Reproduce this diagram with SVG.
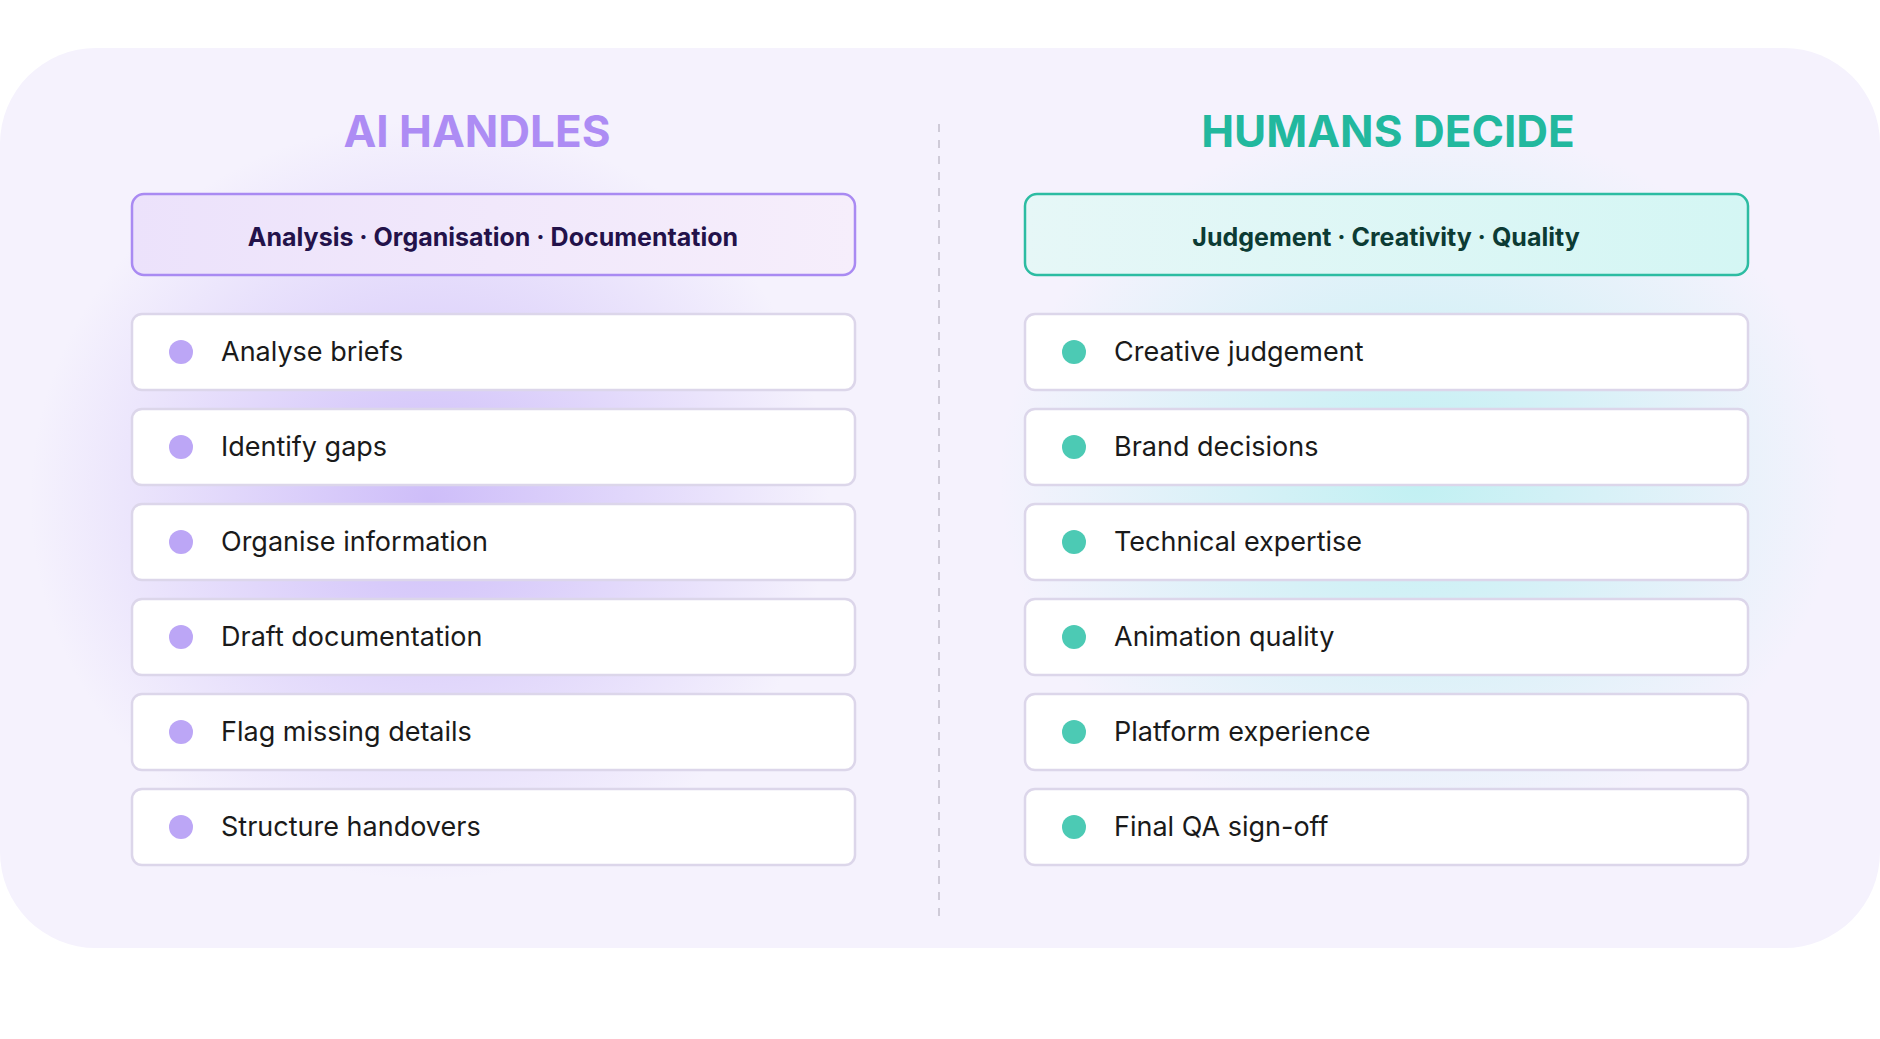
<svg xmlns="http://www.w3.org/2000/svg" width="1880" height="1039" viewBox="0 0 1880 1039">
<defs>
<radialGradient id="gp" cx="0.5" cy="0.5" r="0.5"><stop offset="0" stop-color="#c4b0f8" stop-opacity="0.8"/><stop offset="1" stop-color="#c4b0f8" stop-opacity="0"/></radialGradient>
<radialGradient id="gt" cx="0.5" cy="0.5" r="0.5"><stop offset="0" stop-color="#b4f0f0" stop-opacity="0.8"/><stop offset="1" stop-color="#b4f0f0" stop-opacity="0"/></radialGradient>
<linearGradient id="hp" x1="0" x2="1"><stop offset="0" stop-color="#ece2fb"/><stop offset="1" stop-color="#f6eefb"/></linearGradient>
<linearGradient id="ht" x1="0" x2="1"><stop offset="0" stop-color="#e6f7f7"/><stop offset="1" stop-color="#d4f6f4"/></linearGradient>
</defs>
<style>
text{font-family:Inter,"Noto Sans","Liberation Sans",sans-serif}
.title{font-size:44px;font-weight:700;text-anchor:middle}
.hdr{font-size:25px;font-weight:700;text-anchor:middle}
.item rect{fill:#fff;stroke:#dcd6ea;stroke-width:2.5}
.item text{font-size:27px;fill:#1a1a1a}
.p{fill:#bca6f6}.t{fill:#4ccab4}
</style>
<rect width="1880" height="1039" fill="#fff"/>
<rect x="0" y="48" width="1880" height="900" rx="96" fill="#f5f2fd"/>
<ellipse cx="430" cy="500" rx="400" ry="380" fill="url(#gp)"/>
<ellipse cx="1420" cy="480" rx="420" ry="360" fill="url(#gt)"/>
<g id="connectors"><line x1="939" y1="124" x2="939" y2="920" stroke="#cfcbd8" stroke-width="2" stroke-dasharray="8 8"/></g>
<g id="left-title"><text class="title" x="477" y="147" fill="#ad8cf4">AI HANDLES</text></g>
<g id="left-header"><rect x="132" y="194" width="723" height="81" rx="12" fill="url(#hp)" stroke="#a98af2" stroke-width="2.5"/><text class="hdr" x="493" y="246" fill="#23124a">Analysis · Organisation · Documentation</text></g>
<g id="right-title"><text class="title" x="1388" y="147" fill="#22b89e">HUMANS DECIDE</text></g>
<g id="right-header"><rect x="1025" y="194" width="723" height="81" rx="12" fill="url(#ht)" stroke="#2cbca2" stroke-width="2.5"/><text class="hdr" x="1386" y="246" fill="#0c3b34">Judgement · Creativity · Quality</text></g>
<g id="l1" class="item"><rect x="132" y="314" width="723" height="76" rx="10"/><circle class="p" cx="181" cy="352" r="12"/><text x="221" y="361">Analyse briefs</text></g>
<g id="l2" class="item"><rect x="132" y="409" width="723" height="76" rx="10"/><circle class="p" cx="181" cy="447" r="12"/><text x="221" y="456">Identify gaps</text></g>
<g id="l3" class="item"><rect x="132" y="504" width="723" height="76" rx="10"/><circle class="p" cx="181" cy="542" r="12"/><text x="221" y="551">Organise information</text></g>
<g id="l4" class="item"><rect x="132" y="599" width="723" height="76" rx="10"/><circle class="p" cx="181" cy="637" r="12"/><text x="221" y="646">Draft documentation</text></g>
<g id="l5" class="item"><rect x="132" y="694" width="723" height="76" rx="10"/><circle class="p" cx="181" cy="732" r="12"/><text x="221" y="741">Flag missing details</text></g>
<g id="l6" class="item"><rect x="132" y="789" width="723" height="76" rx="10"/><circle class="p" cx="181" cy="827" r="12"/><text x="221" y="836">Structure handovers</text></g>
<g id="r1" class="item"><rect x="1025" y="314" width="723" height="76" rx="10"/><circle class="t" cx="1074" cy="352" r="12"/><text x="1114" y="361">Creative judgement</text></g>
<g id="r2" class="item"><rect x="1025" y="409" width="723" height="76" rx="10"/><circle class="t" cx="1074" cy="447" r="12"/><text x="1114" y="456">Brand decisions</text></g>
<g id="r3" class="item"><rect x="1025" y="504" width="723" height="76" rx="10"/><circle class="t" cx="1074" cy="542" r="12"/><text x="1114" y="551">Technical expertise</text></g>
<g id="r4" class="item"><rect x="1025" y="599" width="723" height="76" rx="10"/><circle class="t" cx="1074" cy="637" r="12"/><text x="1114" y="646">Animation quality</text></g>
<g id="r5" class="item"><rect x="1025" y="694" width="723" height="76" rx="10"/><circle class="t" cx="1074" cy="732" r="12"/><text x="1114" y="741">Platform experience</text></g>
<g id="r6" class="item"><rect x="1025" y="789" width="723" height="76" rx="10"/><circle class="t" cx="1074" cy="827" r="12"/><text x="1114" y="836">Final QA sign-off</text></g>
</svg>
